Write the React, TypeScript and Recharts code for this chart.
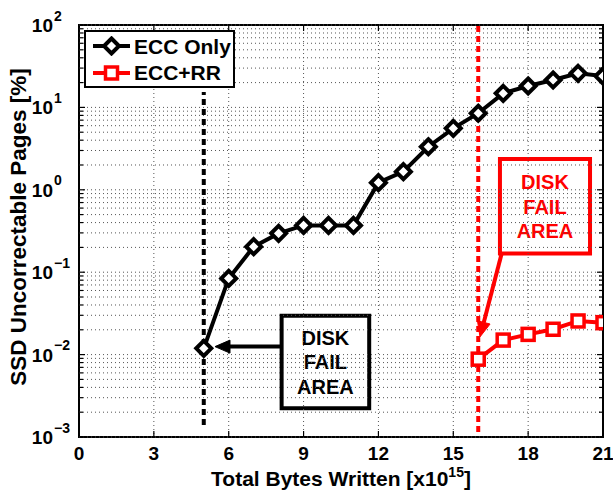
import React from 'react'
import { LineChart, Line, XAxis, YAxis, ReferenceLine, ReferenceArea, Legend } from 'recharts'

const xTicks = [0, 3, 6, 9, 12, 15, 18, 21]
const yTicks = [0.001, 0.01, 0.1, 1, 10, 100]
const yExponents = ['\u22123', '\u22122', '\u22121', '0', '1', '2']

const eccX = [5, 6, 7, 8, 9, 10, 11, 12, 13, 14, 15, 16, 17, 18, 19, 20, 21]
const eccOnly = [0.0119, 0.084, 0.204, 0.296, 0.37, 0.37, 0.37, 1.22, 1.66, 3.33, 5.57, 8.5, 14.8, 18.2, 21.5, 25.9, 24.0]

const rrX = [16, 17, 18, 19, 20, 21]
const eccRR = [0.0088, 0.015, 0.0176, 0.0203, 0.0256, 0.0244]

// fail thresholds (x, data units)
const failBlack = 5
const failRed = 16

const FONT = '"Liberation Sans", Arial, Helvetica, sans-serif'

const eccData = eccX.map((x, i) => ({ x, v: eccOnly[i] }))
const rrData = rrX.map((x, i) => ({ x, v: eccRR[i] }))

const minorGrid: number[] = []
for (let k = -3; k <= 1; k++) {
  for (let m = 1; m <= 9; m++) minorGrid.push(Number((m * Math.pow(10, k)).toPrecision(3)))
}
minorGrid.push(100)

// dotted grid line + small inward ticks at both ends
const hGrid = (major: boolean) => (p: any) => {
  const { x1, x2, y1 } = p
  const t = major ? 6 : 4
  return (
    <g>
      <line x1={x1} y1={y1} x2={x2} y2={y1} stroke="#555" strokeWidth={1} strokeDasharray="1 3" />
      <line x1={x1} y1={y1} x2={x1 + t} y2={y1} stroke="#000" strokeWidth={1.2} />
      <line x1={x2 - t} y1={y1} x2={x2} y2={y1} stroke="#000" strokeWidth={1.2} />
    </g>
  )
}

const vGrid = (p: any) => {
  const { x1, y1, y2 } = p
  const top = Math.min(y1, y2)
  const bot = Math.max(y1, y2)
  return (
    <g>
      <line x1={x1} y1={top} x2={x1} y2={bot} stroke="#555" strokeWidth={1} strokeDasharray="1 3" />
      <line x1={x1} y1={top} x2={x1} y2={top + 6} stroke="#000" strokeWidth={1.2} />
      <line x1={x1} y1={bot - 6} x2={x1} y2={bot} stroke="#000" strokeWidth={1.2} />
    </g>
  )
}

const Diamond = (props: any) => {
  const { cx, cy, index } = props
  if (cx == null || cy == null) return null
  const r = 7.5
  return (
    <polygon
      key={'d' + index}
      points={`${cx},${cy - r} ${cx + r},${cy} ${cx},${cy + r} ${cx - r},${cy}`}
      fill="#fff"
      stroke="#000"
      strokeWidth={4}
    />
  )
}

const Square = (props: any) => {
  const { cx, cy, index } = props
  if (cx == null || cy == null) return null
  const r = 6
  return (
    <rect key={'s' + index} x={cx - r} y={cy - r} width={2 * r} height={2 * r} fill="#fff" stroke="#f00" strokeWidth={3.5} />
  )
}

const Arrow = (color: string) => (p: any) => {
  const { x1, y1, x2, y2 } = p
  const ang = Math.atan2(y2 - y1, x2 - x1)
  const len = 15
  const hw = 6.5
  const bx = x2 - len * Math.cos(ang)
  const by = y2 - len * Math.sin(ang)
  const nx = -Math.sin(ang)
  const ny = Math.cos(ang)
  return (
    <g>
      <line x1={x1} y1={y1} x2={bx} y2={by} stroke={color} strokeWidth={4} />
      <polygon
        points={`${x2},${y2} ${bx + nx * hw},${by + ny * hw} ${bx - nx * hw},${by - ny * hw}`}
        fill={color}
        stroke={color}
        strokeWidth={1}
      />
    </g>
  )
}

const boxLabel = (color: string) => (props: any) => {
  const vb = props.viewBox || {}
  const cx = vb.x + vb.width / 2
  const cy = vb.y + vb.height / 2
  return (
    <text x={cx} y={cy} textAnchor="middle" fill={color} fontFamily={FONT} fontWeight="bold" fontSize={20}>
      <tspan x={cx} dy={-17}>DISK</tspan>
      <tspan x={cx} dy={24.5}>FAIL</tspan>
      <tspan x={cx} dy={24.5}>AREA</tspan>
    </text>
  )
}

const XTick = (props: any) => {
  const { x, y, payload } = props
  return (
    <text x={x} y={y + 23} textAnchor="middle" fontFamily={FONT} fontWeight="bold" fontSize={19} fill="#000">
      {payload.value}
    </text>
  )
}

const YTick = (props: any) => {
  const { x, y, payload } = props
  const i = yTicks.findIndex(t => Math.abs(t - payload.value) < payload.value * 1e-6)
  return (
    <g>
      <text x={x - 26} y={y + 7} textAnchor="end" fontFamily={FONT} fontWeight="bold" fontSize={19} fill="#000">
        10
      </text>
      <text x={x - 25} y={y - 4.5} textAnchor="start" fontFamily={FONT} fontWeight="bold" fontSize={14} fill="#000">
        {yExponents[i]}
      </text>
    </g>
  )
}

const LegendBox = () => (
  <div
    style={{
      border: '2px solid #000',
      background: '#fff',
      width: 147,
      height: 54,
      fontFamily: FONT,
      fontWeight: 'bold',
      fontSize: 21,
      boxSizing: 'content-box',
    }}
  >
    {[
      { name: 'ECC Only', color: '#000', shape: 'd' },
      { name: 'ECC+RR', color: '#f00', shape: 's' },
    ].map((it, i) => (
      <div key={i} style={{ display: 'flex', alignItems: 'center', height: 26.5, marginTop: i === 0 ? 1 : 0 }}>
        <svg width={42} height={20} style={{ marginLeft: 4 }}>
          <line x1={3} y1={10} x2={40} y2={10} stroke={it.color} strokeWidth={4} />
          {it.shape === 'd' ? (
            <polygon points="21.5,2.5 29,10 21.5,17.5 14,10" fill="#fff" stroke="#000" strokeWidth={4} />
          ) : (
            <rect x={15.5} y={4} width={12} height={12} fill="#fff" stroke="#f00" strokeWidth={3.5} />
          )}
        </svg>
        <span style={{ marginLeft: 2, color: '#000', lineHeight: '21px' }}>{it.name}</span>
      </div>
    ))}
  </div>
)

export default function App() {
  return (
    <div style={{ position: 'absolute', left: 0, top: 0, width: 613, height: 492, background: '#fff' }}>
      <LineChart width={613} height={492} margin={{ top: 25, right: 10, left: 0, bottom: 0 }}>
        <XAxis
          dataKey="x"
          type="number"
          domain={[0, 21]}
          ticks={xTicks}
          allowDataOverflow
          axisLine={false}
          tickLine={false}
          tickSize={0}
          tickMargin={0}
          height={55}
          tick={<XTick />}
          label={{
            content: () => (
              <text x={341} y={486} textAnchor="middle" fontFamily={FONT} fontWeight="bold" fontSize={21} fill="#000">
                Total Bytes Written [x10
                <tspan dy={-9} fontSize={14}>15</tspan>
                <tspan dy={9}>]</tspan>
              </text>
            ),
          }}
        />
        <YAxis
          dataKey="v"
          type="number"
          scale="log"
          domain={[0.001, 100]}
          ticks={yTicks}
          allowDataOverflow
          axisLine={false}
          tickLine={false}
          tickSize={0}
          tickMargin={0}
          width={79}
          tick={<YTick />}
          label={{
            content: () => (
              <text
                x={26}
                y={227}
                transform="rotate(-90 26 227)"
                textAnchor="middle"
                fontFamily={FONT}
                fontWeight="bold"
                fontSize={22.5}
                fill="#000"
              >
                SSD Uncorrectable Pages [%]
              </text>
            ),
          }}
        />
        {minorGrid.map(v => (
          <ReferenceLine key={'h' + v} y={v} shape={hGrid(yTicks.includes(v))} />
        ))}
        {xTicks.slice(1, -1).map(v => (
          <ReferenceLine key={'v' + v} x={v} shape={vGrid} />
        ))}
        <ReferenceArea x1={0} x2={21} y1={0.001} y2={100} fill="none" stroke="#000" strokeWidth={2} fillOpacity={0} />
        <ReferenceLine
          segment={[{ x: failBlack, y: 0.0014 }, { x: failBlack, y: 15.4 }]}
          stroke="#000"
          strokeWidth={4}
          strokeDasharray="6 4"
        />
        <ReferenceLine
          segment={[{ x: failRed, y: 0.00115 }, { x: failRed, y: 100 }]}
          stroke="#f00"
          strokeWidth={4}
          strokeDasharray="6 4"
        />
        <ReferenceArea
          x1={8.12}
          x2={11.63}
          y1={0.00223}
          y2={0.0297}
          fill="#fff"
          fillOpacity={1}
          stroke="#000"
          strokeWidth={4}
          label={boxLabel('#000')}
        />
        <ReferenceArea
          x1={16.87}
          x2={20.48}
          y1={0.169}
          y2={2.36}
          fill="#fff"
          fillOpacity={1}
          stroke="#f00"
          strokeWidth={4}
          label={boxLabel('#f00')}
        />
        <ReferenceLine
          segment={[{ x: 8.12, y: 0.0125 }, { x: 5.45, y: 0.0125 }]}
          shape={Arrow('#000')}
        />
        <ReferenceLine
          segment={[{ x: 16.94, y: 0.169 }, { x: 16.07, y: 0.0164 }]}
          shape={Arrow('#f00')}
        />
        <Line
          data={eccData}
          dataKey="v"
          name="ECC Only"
          stroke="#000"
          strokeWidth={4}
          dot={Diamond}
          isAnimationActive={false}
        />
        <Line
          data={rrData}
          dataKey="v"
          name="ECC+RR"
          stroke="#f00"
          strokeWidth={4}
          dot={Square}
          isAnimationActive={false}
        />
        <Legend
          layout="vertical"
          align="center"
          verticalAlign="middle"
          content={<LegendBox />}
          wrapperStyle={{ position: 'absolute', left: 84, top: 30, width: 151, height: 58 }}
        />
      </LineChart>
    </div>
  )
}
